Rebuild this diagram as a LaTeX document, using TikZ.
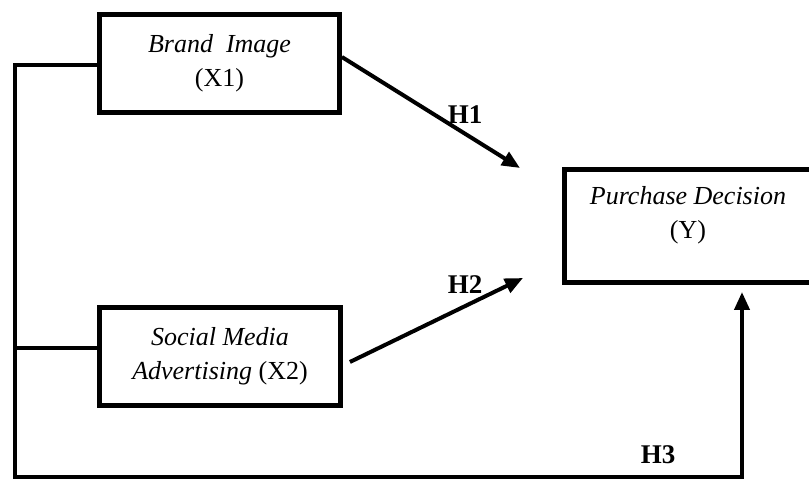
\documentclass[tikz,border=0pt]{standalone}
\usepackage{fontspec}
\setmainfont{Liberation Serif}
\usetikzlibrary{arrows.meta}
\begin{document}
\begin{tikzpicture}[x=0.5pt,y=-0.5pt,
  kotak/.style={draw,line width=2.4pt,inner sep=0pt,align=center,
    font=\fontsize{13}{17}\selectfont},
  garis/.style={line width=2pt},
  panah/.style={line width=2pt,-{Triangle[length=9pt,width=7.5pt]}},
  hip/.style={font=\fontsize{13.5}{16}\selectfont\bfseries}]
\useasboundingbox (0,0) rectangle (809,480);
% variabel
\node[kotak,minimum width=120pt,minimum height=49pt] (bi) at (219.5,63.5)
  {\textit{Brand\ \ Image}\\(X1)};
\node[kotak,minimum width=120.5pt,minimum height=49pt] (sm) at (220,356.5)
  {\textit{Social Media}\\\textit{Advertising} (X2)};
\node[kotak,minimum width=123.5pt,minimum height=56.5pt] (pd) at (688,226) {};
\node[font=\fontsize{13}{17}\selectfont,align=center] (pdteks) at (688,215)
  {\textit{Purchase Decision}\\(Y)};
% ujung panah
\coordinate (h1) at (520,168);
\coordinate (h2) at (523,278);
\coordinate (h3) at (742,292);
\coordinate (kiri) at (15,477);
% garis
\path[draw,panah] ([yshift=3.25pt]bi.east) -- (h1);
\path[draw,panah] ([shift={(3.5pt,-2.75pt)}]sm.east) -- (h2);
\path[draw,garis] ([yshift=4.25pt]sm.west) -- ([yshift=4.25pt]sm.west -| kiri);
\path[draw,panah] ([yshift=-0.75pt]bi.west) -| (kiri) -| (h3);
% hipotesis
\node[hip] (lh1) at (465,115) {H1};
\node[hip] (lh2) at (465,285) {H2};
\node[hip] (lh3) at (658,455) {H3};
\end{tikzpicture}
\end{document}
